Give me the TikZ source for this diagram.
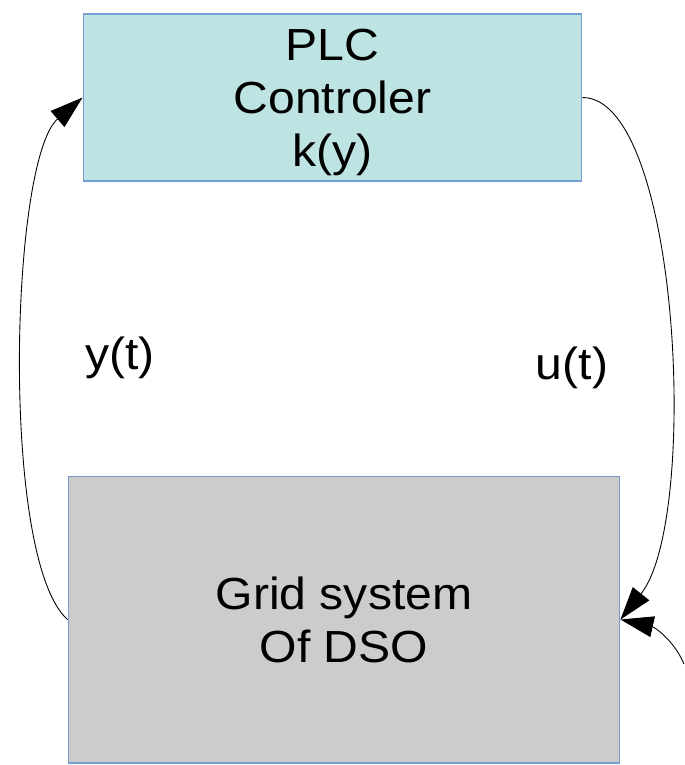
\documentclass[tikz,border=0pt]{standalone}
\usepackage{fontspec}
\setmainfont[FakeStretch=1.07]{Liberation Sans}
\usetikzlibrary{arrows.meta}
\definecolor{plcfill}{HTML}{BEE3E3}
\definecolor{gridfill}{HTML}{CCCCCC}
\definecolor{boxline}{HTML}{729FCF}
\begin{document}
\begin{tikzpicture}[x=0.02cm,y=-0.02cm,every node/.style={font=\fontsize{25.6}{30.2}\selectfont},
  blockbox/.style={draw=boxline,line width=0.6pt,align=center,inner sep=0pt,text depth=0pt},
  sig/.style={line width=0.5pt,-{Triangle[length=0.66cm,width=0.42cm]}}]
\useasboundingbox (0,0) rectangle (684,765);
% controller on top, plant below
\node[blockbox,fill=plcfill,minimum width=9.98cm,minimum height=3.34cm] (plc) at (332.5,97.5) {PLC\\Controler\\k(y)};
\node[blockbox,fill=gridfill,minimum width=11.04cm,minimum height=5.74cm] (grid) at (344,619.5) {Grid system\\Of DSO};
\coordinate (dist) at (684,664);
% feedback loop
\draw[sig] (grid.west) .. controls (0,560) and (10,160) .. (plc.west);
\draw[sig] (plc.east) .. controls (680,97.5) and (700,520) .. (grid.east);
\draw[sig] (dist) .. controls (674,640) and (654,627) .. (grid.east);
\node (yt) at (120,358) {y(t)};
\node (ut) at (572,368) {u(t)};
\end{tikzpicture}
\end{document}
